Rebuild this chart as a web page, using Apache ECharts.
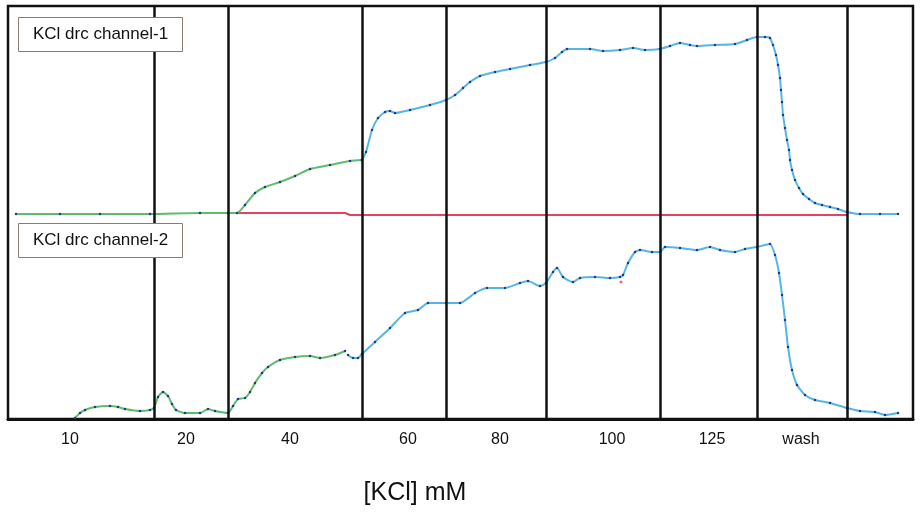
<!DOCTYPE html>
<html>
<head>
<meta charset="utf-8">
<script src="https://cdn.jsdelivr.net/npm/echarts@6/dist/echarts.min.js"></script>
<style>
html,body{margin:0;padding:0;background:#fff;}
#chart{width:920px;height:514px;}
</style>
</head>
<body>
<div id="chart"></div>
<script>
// Time in minutes (x), tension in arbitrary units (y)
const segmentBounds = [14.6, 22.0, 35.4, 43.8, 53.8, 65.2, 74.9, 83.9];
const categoryLabels = ['10', '20', '40', '60', '80', '100', '125', 'wash'];
const categoryPositions = [6.2, 17.8, 28.2, 40.0, 49.2, 60.4, 70.4, 79.3];
const panelTitles = ['KCl drc channel-1', 'KCl drc channel-2'];
const axisTitle = '[KCl] mM';

// Channel 1 - green part
const ch1GreenT = [0.8, 5.2, 9.2, 14.2, 19.2, 22.0, 22.9, 23.7, 24.7, 25.7, 27.2, 28.7, 30.2, 32.2, 34.2, 35.4];
const ch1GreenV = [-0.1, -0.1, -0.1, -0.1, 0, 0, 0, 0.8, 2.0, 2.6, 3.1, 3.7, 4.4, 4.8, 5.2, 5.3];
// Channel 1 - blue part
const ch1BlueT = [35.4, 35.8, 36.4, 37.0, 37.7, 38.2, 38.7, 40.2, 42.2, 43.8, 44.7, 45.5, 46.2, 47.2, 48.7, 50.2, 52.2, 53.8, 54.7, 55.4, 55.9, 58.2, 59.5, 61.2, 62.5, 63.7, 65.2, 66.2, 67.2, 68.2, 68.9, 70.7, 72.7, 73.9, 74.9, 75.7, 76.2, 76.5, 76.8, 77.0, 77.2, 77.3, 77.4, 77.5, 77.7, 77.9, 78.1, 78.2, 78.4, 78.7, 79.1, 79.5, 80.1, 80.7, 81.4, 82.2, 83.0, 83.9, 85.2, 87.2, 89.0];
const ch1BlueV = [5.3, 6.1, 8.3, 9.5, 10.1, 10.2, 10.0, 10.3, 10.8, 11.3, 11.8, 12.5, 13.1, 13.7, 14.1, 14.4, 14.8, 15.1, 15.5, 16.1, 16.4, 16.4, 16.2, 16.3, 16.5, 16.3, 16.4, 16.7, 17.0, 16.8, 16.7, 16.8, 16.9, 17.3, 17.6, 17.6, 17.5, 16.8, 15.8, 14.8, 13.5, 12.3, 11.1, 9.8, 8.5, 7.3, 6.3, 5.3, 4.3, 3.3, 2.5, 1.9, 1.4, 1.0, 0.8, 0.6, 0.4, 0.1, -0.1, -0.1, -0.1];
// Channel 1 - reference (red)
const ch1RefT = [22.9, 33.7, 34.2, 83.9];
const ch1RefV = [0, 0, -0.2, -0.2];

// Channel 2 - green part
const ch2GreenT = [6.7, 7.2, 7.7, 8.7, 10.2, 11.0, 11.7, 13.2, 14.2, 14.6, 15.0, 15.5, 16.0, 16.4, 16.8, 17.7, 19.2, 20.0, 20.7, 22.0, 22.5, 23.0, 23.7, 24.2, 24.7, 25.4, 26.0, 27.2, 28.7, 30.2, 31.2, 32.7, 33.7];
const ch2GreenV = [-0.1, 0.4, 0.7, 1.0, 1.1, 1.0, 0.8, 0.6, 0.7, 0.9, 2.0, 2.5, 2.1, 1.3, 0.7, 0.4, 0.4, 0.8, 0.6, 0.4, 1.1, 1.8, 1.9, 2.5, 3.4, 4.4, 5.0, 5.7, 6.0, 6.1, 5.9, 6.2, 6.6];
// Channel 2 - blue part
const ch2BlueT = [34.0, 34.5, 35.0, 35.4, 36.7, 38.2, 39.7, 41.0, 42.0, 43.8, 45.2, 46.7, 47.9, 49.7, 51.2, 52.0, 53.2, 53.8, 54.5, 54.9, 55.5, 56.5, 57.2, 58.7, 60.2, 61.2, 61.5, 62.0, 62.7, 63.2, 64.4, 65.2, 65.7, 67.2, 68.9, 70.2, 71.2, 72.7, 73.7, 74.9, 76.2, 76.7, 77.1, 77.4, 77.7, 78.0, 78.4, 78.9, 79.7, 80.7, 82.2, 83.9, 85.2, 86.7, 87.7, 89.0];
const ch2BlueV = [6.2, 5.9, 5.9, 6.3, 7.5, 8.9, 10.4, 10.7, 11.4, 11.4, 11.4, 12.4, 12.9, 12.9, 13.4, 13.6, 13.1, 13.4, 14.5, 14.9, 14.0, 13.5, 13.9, 14.0, 13.9, 14.0, 14.2, 15.4, 16.5, 16.7, 16.5, 16.5, 17.0, 16.9, 16.7, 17.0, 16.7, 16.5, 16.8, 17.0, 17.3, 16.2, 14.4, 12.2, 9.7, 7.0, 4.7, 3.2, 2.2, 1.7, 1.4, 0.9, 0.6, 0.5, 0.2, 0.4];
// Channel 2 - stray red point
const ch2RedT = [61.3];
const ch2RedV = [13.5];

const zip = (t, v) => t.map((x, i) => [x, v[i]]);

const GREEN = '#5dbd6c';
const BLUE = '#56b6e2';
const DOT = '#27378a';

const chart = echarts.init(document.getElementById('chart'), null, {renderer: 'canvas'});

function traceSeries(name, t, v, color, yIdx) {
  return {
    name: name, type: 'line', xAxisIndex: 0, yAxisIndex: yIdx,
    data: zip(t, v), smooth: 0.2,
    showSymbol: true, symbol: 'circle', symbolSize: 2.5,
    itemStyle: {color: DOT},
    lineStyle: {color: color, width: 2},
    z: 3, animation: false
  };
}

const option = {
  animation: false,
  backgroundColor: '#fff',
  title: [
    {text: panelTitles[0], left: 18, top: 17, padding: [9, 15],
     borderColor: '#8a7d70', borderWidth: 1, backgroundColor: '#fff',
     textStyle: {fontFamily: 'Liberation Sans, Arial, sans-serif', fontSize: 17, fontWeight: 'normal', color: '#111'}},
    {text: panelTitles[1], left: 18, top: 223, padding: [9, 15],
     borderColor: '#8a7d70', borderWidth: 1, backgroundColor: '#fff',
     textStyle: {fontFamily: 'Liberation Sans, Arial, sans-serif', fontSize: 17, fontWeight: 'normal', color: '#111'}},
    {text: axisTitle, left: 410, top: 476, textAlign: 'center',
     textStyle: {fontFamily: 'Liberation Sans, Arial, sans-serif', fontSize: 25, fontWeight: 'normal', color: '#111'}}
  ],
  grid: {left: 8, right: 7, top: 6, bottom: 95, show: true, borderColor: '#111', borderWidth: 2.5, backgroundColor: 'transparent'},
  xAxis: {
    type: 'value', min: 0, max: 90.5,
    axisLine: {show: true, onZero: false, lineStyle: {color: '#111', width: 3}},
    axisTick: {show: false},
    splitLine: {show: false},
    axisLabel: {
      customValues: categoryPositions,
      margin: 13,
      fontFamily: 'Liberation Sans, Arial, sans-serif', fontSize: 16, color: '#111',
      formatter: function (val) {
        let best = 0, bd = Infinity;
        categoryPositions.forEach((p, i) => { const d = Math.abs(p - val); if (d < bd) { bd = d; best = i; } });
        return categoryLabels[best];
      }
    }
  },
  yAxis: [
    {type: 'value', min: -20.6, max: 20.7, show: false, splitLine: {show: false}},
    {type: 'value', min: -0.2, max: 41.1, show: false, splitLine: {show: false}}
  ],
  series: [
    {
      name: 'bounds', type: 'line', data: [], xAxisIndex: 0, yAxisIndex: 0, z: 1,
      markLine: {
        silent: true, symbol: ['none', 'none'], animation: false,
        label: {show: false},
        lineStyle: {color: '#111', width: 2.5, type: 'solid'},
        data: segmentBounds.map(b => ({xAxis: b}))
      }
    },
    {
      name: 'ch1 ref', type: 'line', xAxisIndex: 0, yAxisIndex: 0,
      data: zip(ch1RefT, ch1RefV), showSymbol: false,
      lineStyle: {color: '#e8405f', width: 2}, z: 2
    },
    traceSeries('ch1 green', ch1GreenT, ch1GreenV, GREEN, 0),
    traceSeries('ch1 blue', ch1BlueT, ch1BlueV, BLUE, 0),
    traceSeries('ch2 green', ch2GreenT, ch2GreenV, GREEN, 1),
    traceSeries('ch2 blue', ch2BlueT, ch2BlueV, BLUE, 1),
    {
      name: 'ch2 red', type: 'scatter', xAxisIndex: 0, yAxisIndex: 1,
      data: zip(ch2RedT, ch2RedV), symbolSize: 3, itemStyle: {color: '#e8405f'}, z: 4
    }
  ]
};
chart.setOption(option);
</script>
</body>
</html>
